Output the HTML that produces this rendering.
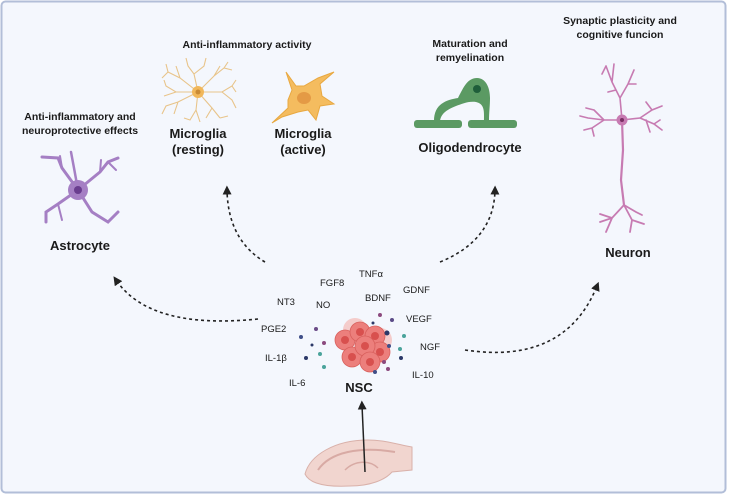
<!DOCTYPE html>
<html><head><meta charset="utf-8"><style>
html,body{margin:0;padding:0;background:#fff;}
svg{display:block;}
text{font-family:"Liberation Sans",Arial,sans-serif;fill:#1a1a1a;}
.h{font-size:10.5px;font-weight:bold;}
.l{font-size:13px;font-weight:bold;}
.m{font-size:9.5px;}
</style></head><body>
<svg width="729" height="496" viewBox="0 0 729 496" xmlns="http://www.w3.org/2000/svg">
<defs>
<marker id="ah" viewBox="0 0 10 10" refX="5" refY="5" markerWidth="9" markerHeight="9" orient="auto-start-reverse" markerUnits="userSpaceOnUse"><path d="M0,0 L10,5 L0,10 z" fill="#222"/></marker>
</defs>
<rect x="1.5" y="1.5" width="724" height="491" rx="4" fill="#f4f7fd" stroke="#b2bed8" stroke-width="2"/>

<!-- headings -->
<text class="h" x="80" y="120" text-anchor="middle">Anti-inflammatory and</text>
<text class="h" x="80" y="134" text-anchor="middle">neuroprotective effects</text>
<text class="h" x="247" y="48" text-anchor="middle">Anti-inflammatory activity</text>
<text class="h" x="470" y="47" text-anchor="middle">Maturation and</text>
<text class="h" x="470" y="61" text-anchor="middle">remyelination</text>
<text class="h" x="620" y="24" text-anchor="middle">Synaptic plasticity and</text>
<text class="h" x="620" y="38" text-anchor="middle">cognitive funcion</text>

<!-- labels -->
<text class="l" x="80" y="250" text-anchor="middle">Astrocyte</text>
<text class="l" x="198" y="138" text-anchor="middle">Microglia</text>
<text class="l" x="198" y="154" text-anchor="middle">(resting)</text>
<text class="l" x="303" y="138" text-anchor="middle">Microglia</text>
<text class="l" x="303" y="154" text-anchor="middle">(active)</text>
<text class="l" x="470" y="152" text-anchor="middle">Oligodendrocyte</text>
<text class="l" x="628" y="257" text-anchor="middle">Neuron</text>
<text class="l" x="359" y="392" text-anchor="middle">NSC</text>

<!-- astrocyte -->
<g stroke="#a57fc4" fill="none" stroke-linecap="round">
<path d="M78,190 L62,168 L58,158 L42,157" stroke-width="3"/>
<path d="M62,168 L60,156" stroke-width="2"/>
<path d="M78,190 L74,168 L71,152" stroke-width="2.5"/>
<path d="M78,190 L100,172 L108,162 L118,158" stroke-width="3"/>
<path d="M100,172 L101,160" stroke-width="2"/>
<path d="M108,162 L116,170" stroke-width="2"/>
<path d="M78,190 L58,204 L46,212 L46,222" stroke-width="3"/>
<path d="M58,204 L62,220" stroke-width="2"/>
<path d="M78,190 L92,212 L108,222 L118,212" stroke-width="3"/>
</g>
<circle cx="78" cy="190" r="10" fill="#a57fc4"/>
<circle cx="78" cy="190" r="4" fill="#6a3d8f"/>

<!-- microglia resting -->
<g stroke="#e8c48a" fill="none" stroke-width="1.1">
<path d="M198,92 L180,78 L168,72 L166,64 M180,78 L176,66 M168,72 L162,78
M198,92 L194,74 L188,66 L186,58 M194,74 L204,66 L206,58
M198,92 L214,76 L224,68 L232,70 M214,76 L220,66 M224,68 L228,62
M198,92 L222,92 L232,86 L236,80 M222,92 L232,100 L236,108 M232,86 L236,92
M198,92 L212,108 L220,118 M212,108 L206,118 M220,118 L228,116
M198,92 L196,110 L190,120 L184,118 M196,110 L200,122
M198,92 L178,102 L166,106 L162,114 M178,102 L174,114
M198,92 L176,92 L166,86 L164,80 M176,92 L164,96"/>
</g>
<circle cx="198" cy="92" r="6" fill="#f1b75a"/>
<circle cx="198" cy="92" r="2.5" fill="#c98a35"/>

<!-- microglia active -->
<path d="M292,90 L286,72 L296,86 L304,86 L318,78 L334,72 L320,84 L322,96 L334,104 L320,106 L316,120 L308,110 L298,112 L282,117 L272,123 L288,108 L288,100 Z" fill="#f4bc5f" stroke="#e8a840" stroke-width="1"/>
<ellipse cx="304" cy="98" rx="7" ry="6" fill="#e49a45"/>

<!-- oligodendrocyte -->
<g fill="#5b9a63">
<rect x="414" y="120" width="48" height="8" rx="3"/>
<rect x="468" y="120" width="49" height="8" rx="3"/>
<path d="M434,121 C434,104 446,100 458,98 C464,86 468,78 477,78 C486,78 490,88 490,98 C490,106 489,112 489,121 L484,121 C484,112 485,104 476,102 C468,101 462,104 456,106 C446,110 441,114 440,121 Z"/>
</g>
<circle cx="477" cy="89" r="4" fill="#1f5e3a"/>

<!-- neuron -->
<g stroke="#c77bb2" fill="none" stroke-linecap="round">
<path d="M622,120 L623,150 L621,180 L624,205" stroke-width="2.2"/>
<path d="M624,205 L612,218 L600,222 M612,218 L606,232 M624,205 L632,220 L630,232 M632,220 L644,224 M624,205 L636,212 L642,215 M612,218 L600,214" stroke-width="1.8"/>
<path d="M622,120 L620,98 L612,82 L606,66 M620,98 L628,84 L634,70 M612,82 L614,64 M606,66 L602,74 M628,84 L636,84 M616,90 L608,92" stroke-width="1.6"/>
<path d="M622,120 L604,120 L588,118 L580,116 M604,120 L594,110 M604,120 L592,128 L584,130 M594,110 L586,108 M592,128 L594,136" stroke-width="1.6"/>
<path d="M622,120 L640,118 L652,110 L662,106 M640,118 L654,124 L662,130 M652,110 L646,102 M654,124 L660,120 M646,120 L650,132" stroke-width="1.6"/>
</g>
<circle cx="622" cy="120" r="5.5" fill="#c77bb2"/>
<circle cx="622" cy="120" r="2" fill="#7a2f64"/>

<!-- dashed arrows -->
<g stroke="#222" stroke-width="1.6" fill="none" stroke-dasharray="3,3">
<path d="M258,319 Q150,330 116,280" marker-end="url(#ah)"/>
<path d="M265,262 Q228,240 227,190" marker-end="url(#ah)"/>
<path d="M440,262 Q494,240 495,190" marker-end="url(#ah)"/>
<path d="M465,350 Q565,365 597,286" marker-end="url(#ah)"/>
</g>

<!-- hippocampus -->
<path d="M305,474 C310,455 335,440 368,440 C385,440 400,445 412,447 L412,470 L392,472 C385,480 370,486 350,486 C330,487 310,485 305,474 Z" fill="#f1d5cf" stroke="#d9b1aa" stroke-width="1"/>
<path d="M318,470 C330,452 360,446 395,452" stroke="#d8aaa4" stroke-width="2" fill="none"/>
<path d="M345,470 C355,460 370,460 378,468" stroke="#d8aaa4" stroke-width="1.5" fill="none"/>
<line x1="365" y1="472" x2="362" y2="405" stroke="#222" stroke-width="1.5" marker-end="url(#ah)"/>

<!-- NSC cluster -->
<g>
<circle cx="355" cy="330" r="12" fill="#f3b9b5" opacity="0.7"/>
<circle cx="380" cy="340" r="12" fill="#f3b9b5" opacity="0.7"/>
<g fill="#ec7f7c" stroke="#d8605d" stroke-width="0.8">
<circle cx="345" cy="340" r="10"/><circle cx="360" cy="332" r="10"/><circle cx="375" cy="336" r="10"/>
<circle cx="352" cy="357" r="10"/><circle cx="380" cy="352" r="10"/><circle cx="365" cy="346" r="10"/>
<circle cx="370" cy="362" r="10"/>
</g>
<g fill="#d8504e">
<circle cx="345" cy="340" r="4"/><circle cx="360" cy="332" r="4"/><circle cx="375" cy="336" r="4"/>
<circle cx="352" cy="357" r="4"/><circle cx="380" cy="352" r="4"/><circle cx="365" cy="346" r="4"/><circle cx="370" cy="362" r="4"/>
</g>
</g>
<g>
<circle cx="316" cy="329" r="2" fill="#6b4b87"/><circle cx="301" cy="337" r="2" fill="#3f4f88"/>
<circle cx="312" cy="345" r="1.5" fill="#2b3868"/><circle cx="324" cy="343" r="2" fill="#8b4a7e"/>
<circle cx="306" cy="358" r="2" fill="#2b3868"/><circle cx="320" cy="354" r="2" fill="#4aa39b"/>
<circle cx="324" cy="367" r="2" fill="#4aa39b"/><circle cx="380" cy="315" r="2" fill="#8b4a7e"/>
<circle cx="373" cy="323" r="1.5" fill="#2b3868"/><circle cx="392" cy="320" r="2" fill="#5a4b87"/>
<circle cx="387" cy="333" r="2.5" fill="#2b3868"/><circle cx="404" cy="336" r="2" fill="#4aa39b"/>
<circle cx="389" cy="346" r="2" fill="#3f4f88"/><circle cx="400" cy="349" r="2" fill="#4aa39b"/>
<circle cx="401" cy="358" r="2" fill="#2b3868"/><circle cx="384" cy="362" r="2" fill="#8b4a7e"/>
<circle cx="388" cy="369" r="2" fill="#8b4a7e"/><circle cx="375" cy="372" r="2" fill="#3f4f88"/>
</g>
<text class="m" x="359" y="277">TNFα</text>
<text class="m" x="320" y="286">FGF8</text>
<text class="m" x="277" y="305">NT3</text>
<text class="m" x="316" y="308">NO</text>
<text class="m" x="365" y="301">BDNF</text>
<text class="m" x="403" y="293">GDNF</text>
<text class="m" x="406" y="322">VEGF</text>
<text class="m" x="261" y="332">PGE2</text>
<text class="m" x="420" y="350">NGF</text>
<text class="m" x="265" y="361">IL-1β</text>
<text class="m" x="412" y="378">IL-10</text>
<text class="m" x="289" y="386">IL-6</text>
</svg>
</body></html>
